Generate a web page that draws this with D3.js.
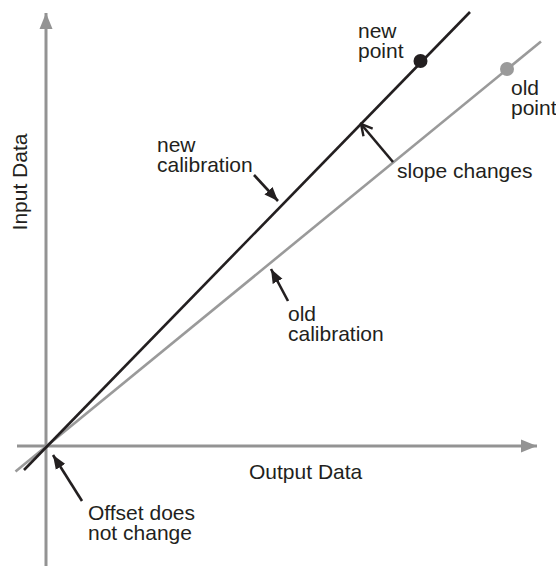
<!DOCTYPE html>
<html>
<head>
<meta charset="utf-8">
<script src="https://cdn.jsdelivr.net/npm/d3@7"></script>
<style>
  html, body { margin: 0; padding: 0; background: #fff; }
  text { font-family: "Liberation Sans", Arial, sans-serif; font-size: 21px; fill: #231f20; }
</style>
</head>
<body>
<div id="chart"></div>
<script>
// calibration lines, endpoints in output/input units
const newLine = [[-4.4, -4.8], [84.8, 86.8]];
const oldLine = [[-6.1, -5.1], [99.0, 80.9]];
const newPoint = [74.9, 77.0];
const oldPoint = [92.2, 75.4];

// axis extents (start, arrow tip)
const xAxisExtent = [-5.8, 98.2];
const yAxisExtent = [-24, 86.6];

// annotation arrows: tail -> tip
const arrows = [
  { from: [41.6, 54.2], to: [46.4, 49.0], head: "fill" },
  { from: [48.4, 29.0], to: [45.0, 35.4], head: "fill" },
  { from: [69.4, 56.8], to: [63.0, 64.4], head: "open" },
  { from: [7.2, -11.0], to: [1.4, -1.8], head: "fill" }
];

// annotation labels (first baseline)
const labels = [
  { at: [62.4, 81.6], lines: ["new", "point"] },
  { at: [93.0, 70.2], lines: ["old", "point"] },
  { at: [70.2, 53.6], lines: ["slope changes"] },
  { at: [22.2, 58.8], lines: ["new", "calibration"] },
  { at: [48.4, 25.0], lines: ["old", "calibration"] },
  { at: [8.4, -14.8], lines: ["Offset does", "not change"] }
];

const width = 556, height = 569;
const x = d3.scaleLinear().domain([0, 100]).range([46, 546]);
const y = d3.scaleLinear().domain([0, 100]).range([446, -54]);

const svg = d3.select("#chart").append("svg")
  .attr("width", width)
  .attr("height", height);

const defs = svg.append("defs");
defs.append("marker")
  .attr("id", "axisHead")
  .attr("markerUnits", "userSpaceOnUse")
  .attr("viewBox", "0 -7 16 14")
  .attr("refX", 16).attr("refY", 0)
  .attr("markerWidth", 16).attr("markerHeight", 14)
  .attr("orient", "auto")
  .append("path").attr("d", "M0,-6.5L16,0L0,6.5Z").attr("fill", "#939393");
defs.append("marker")
  .attr("id", "fillHead")
  .attr("markerUnits", "userSpaceOnUse")
  .attr("viewBox", "0 -6 14 12")
  .attr("refX", 14).attr("refY", 0)
  .attr("markerWidth", 14).attr("markerHeight", 12)
  .attr("orient", "auto")
  .append("path").attr("d", "M0,-5.5L14,0L0,5.5Z").attr("fill", "#231f20");
defs.append("marker")
  .attr("id", "openHead")
  .attr("markerUnits", "userSpaceOnUse")
  .attr("viewBox", "-2 -8 16 16")
  .attr("refX", 12).attr("refY", 0)
  .attr("markerWidth", 16).attr("markerHeight", 16)
  .attr("orient", "auto")
  .append("path").attr("d", "M1,-6L12,0L1,6")
  .attr("fill", "none").attr("stroke", "#231f20").attr("stroke-width", 2.4);

const line = d3.line().x(d => x(d[0])).y(d => y(d[1]));

// axes
svg.append("path")
  .attr("d", line([[xAxisExtent[0], 0], [xAxisExtent[1], 0]]))
  .attr("stroke", "#939393").attr("stroke-width", 3)
  .attr("marker-end", "url(#axisHead)");
svg.append("path")
  .attr("d", line([[0, yAxisExtent[0]], [0, yAxisExtent[1]]]))
  .attr("stroke", "#939393").attr("stroke-width", 3)
  .attr("marker-end", "url(#axisHead)");

// calibration lines
svg.append("path").datum(oldLine)
  .attr("d", line).attr("stroke", "#9a9a9a").attr("stroke-width", 2.6).attr("fill", "none");
svg.append("path").datum(newLine)
  .attr("d", line).attr("stroke", "#231f20").attr("stroke-width", 2.6).attr("fill", "none");

// points
svg.append("circle").attr("cx", x(newPoint[0])).attr("cy", y(newPoint[1]))
  .attr("r", 7).attr("fill", "#231f20");
svg.append("circle").attr("cx", x(oldPoint[0])).attr("cy", y(oldPoint[1]))
  .attr("r", 7).attr("fill", "#9a9a9a");

// annotation arrows
svg.selectAll("path.arrow").data(arrows).join("path")
  .attr("class", "arrow")
  .attr("d", d => line([d.from, d.to]))
  .attr("stroke", "#231f20").attr("stroke-width", 2.6).attr("fill", "none")
  .attr("marker-end", d => d.head === "open" ? "url(#openHead)" : "url(#fillHead)");

// labels
const lab = svg.selectAll("text.label").data(labels).join("text")
  .attr("class", "label")
  .attr("x", d => x(d.at[0]))
  .attr("y", d => y(d.at[1]));
lab.selectAll("tspan").data(d => d.lines.map(t => ({ t, x: x(d.at[0]) }))).join("tspan")
  .attr("x", d => d.x)
  .attr("dy", (d, i) => i === 0 ? 0 : 20)
  .text(d => d.t);

// axis titles
svg.append("text")
  .attr("x", 249).attr("y", 479)
  .text("Output Data");
svg.append("text")
  .attr("transform", "translate(27,182) rotate(-90)")
  .attr("text-anchor", "middle")
  .text("Input Data");
</script>
</body>
</html>
